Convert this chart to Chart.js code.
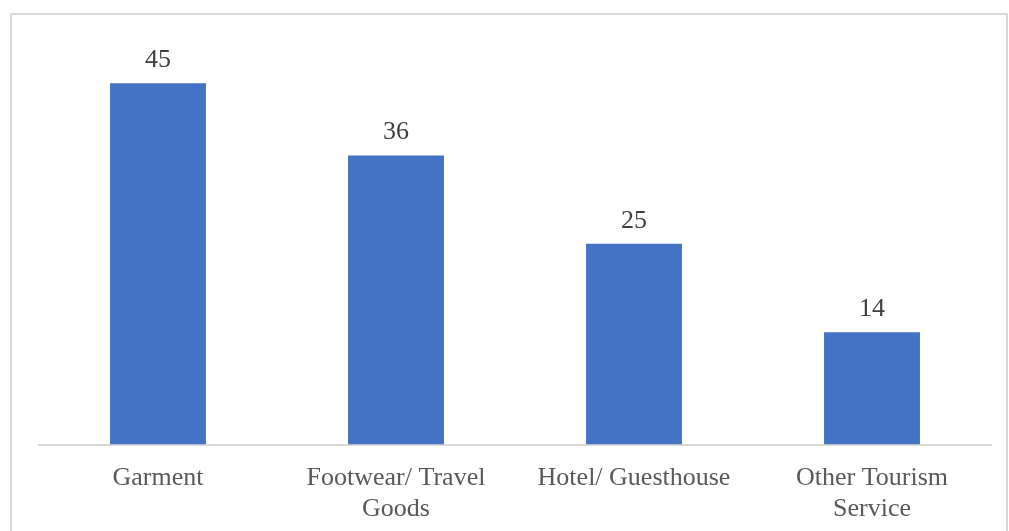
<!DOCTYPE html>
<html>
<head>
<meta charset="utf-8">
<script src="https://cdn.jsdelivr.net/npm/chart.js@4/dist/chart.umd.min.js"></script>
<style>
  html, body { margin: 0; padding: 0; background: #ffffff; overflow: hidden; }
  #wrap { position: relative; width: 1009px; height: 531px; overflow: hidden; }
  #frame {
    position: absolute; left: 10px; top: 13px; width: 998px; height: 560px;
    border: 2px solid #d9d9d9; box-sizing: border-box;
  }
  #chart { position: absolute; left: 0; top: 0; }
</style>
</head>
<body>
<div id="wrap">
  <div id="frame"></div>
  <canvas id="chart" width="1009" height="557"></canvas>
</div>
<script>
// Categories (multi-line labels are split into arrays)
const categories = [
  'Garment',
  ['Footwear/ Travel', 'Goods'],
  'Hotel/ Guesthouse',
  ['Other Tourism', 'Service']
];
// Values per category
const values = [45, 36, 25, 14];

const barColor = '#4472C4';
const labelFont = { family: '"Liberation Serif", "Times New Roman", serif', size: 26 };

// Writes each bar's value just above it
const valueLabels = {
  id: 'valueLabels',
  afterDatasetsDraw(chart) {
    const { ctx } = chart;
    const meta = chart.getDatasetMeta(0);
    ctx.save();
    ctx.font = `${labelFont.size}px ${labelFont.family}`;
    ctx.fillStyle = '#404040';
    ctx.textAlign = 'center';
    ctx.textBaseline = 'alphabetic';
    meta.data.forEach((bar, i) => {
      ctx.fillText(String(chart.data.datasets[0].data[i]), bar.x, bar.y - 16);
    });
    ctx.restore();
  }
};

new Chart(document.getElementById('chart'), {
  type: 'bar',
  data: {
    labels: categories,
    datasets: [{
      data: values,
      backgroundColor: barColor,
      borderWidth: 0,
      categoryPercentage: 0.403,
      barPercentage: 1.0
    }]
  },
  options: {
    responsive: false,
    animation: false,
    layout: { padding: { left: 39, right: 18, top: 43, bottom: 14 } },
    plugins: { legend: { display: false }, tooltip: { enabled: false } },
    scales: {
      x: {
        grid: { display: false, drawTicks: false },
        border: { display: true, color: '#d9d9d9', width: 2 },
        ticks: { color: '#595959', font: labelFont, padding: 18, maxRotation: 0, autoSkip: false }
      },
      y: {
        display: false,
        min: 0,
        max: 50
      }
    }
  },
  plugins: [valueLabels]
});
</script>
</body>
</html>
